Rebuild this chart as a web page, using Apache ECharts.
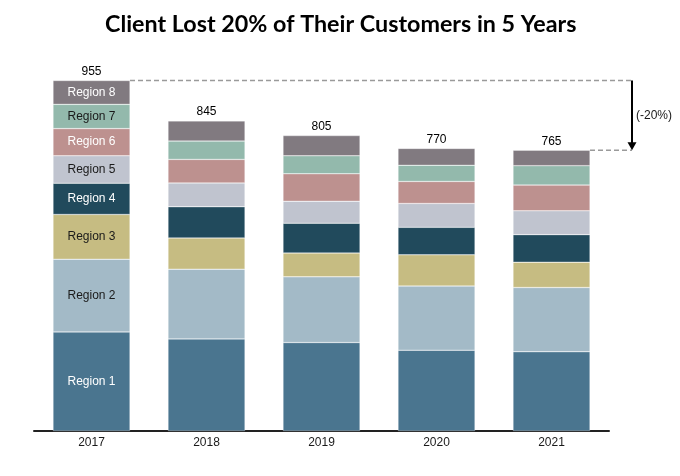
<!DOCTYPE html>
<html>
<head>
<meta charset="utf-8">
<script src="https://cdn.jsdelivr.net/npm/echarts@6/dist/echarts.min.js"></script>
<style>html,body{margin:0;padding:0;background:#fff;}#c{width:680px;height:476px;}</style>
</head>
<body>
<div id="c"></div>
<script>
const years = ['2017', '2018', '2019', '2020', '2021'];
const regionNames = ['Region 1', 'Region 2', 'Region 3', 'Region 4', 'Region 5', 'Region 6', 'Region 7', 'Region 8'];
const region1 = [270, 251, 241, 220, 216];
const region2 = [198, 190, 179, 175, 175];
const region3 = [122, 85, 65, 85, 69];
const region4 = [85, 85, 81, 75, 75];
const region5 = [75, 65, 60, 65, 65];
const region6 = [74, 64, 75, 60, 70];
const region7 = [66, 50, 49, 44, 53];
const region8 = [65, 55, 55, 46, 42];
const totals = [955, 845, 805, 770, 765];
const changeLabel = '(-20%)';

const regionValues = [region1, region2, region3, region4, region5, region6, region7, region8];
const colors = ['#4a758f', '#a3bac7', '#c6bc82', '#214a5c', '#c0c4cf', '#bd918f', '#93b9ac', '#817a80'];
const labelColors = ['#ffffff', '#1a1a1a', '#1a1a1a', '#ffffff', '#1a1a1a', '#ffffff', '#1a1a1a', '#ffffff'];
const BAR_W = 77;
const FONT = 'Arial, "Liberation Sans", sans-serif';

const series = regionValues.map((vals, i) => ({
  name: regionNames[i],
  type: 'bar',
  stack: 'all',
  barWidth: BAR_W,
  itemStyle: { color: colors[i], borderColor: 'rgba(255,255,255,0.6)', borderWidth: 0.5 },
  data: vals.map((v, j) => j === 0 ? {
    value: v,
    label: { show: true, position: 'inside', formatter: regionNames[i], color: labelColors[i],
      fontFamily: FONT, fontSize: 12 }
  } : v),
  silent: true
}));

series.push({
  name: 'Total',
  type: 'bar',
  stack: 'all',
  barWidth: BAR_W,
  data: totals.map(() => 0),
  label: {
    show: true, position: 'top', distance: 3,
    formatter: p => String(totals[p.dataIndex]),
    color: '#000', fontFamily: FONT, fontSize: 12
  },
  itemStyle: { color: 'transparent' }
});

series.push({
  type: 'custom',
  clip: false,
  silent: true,
  data: [[0, totals[0], totals.length - 1, totals[totals.length - 1]]],
  encode: { x: 0, y: 1 },
  renderItem: function (params, api) {
    const p1 = api.coord([api.value(0), api.value(1)]);
    const p2 = api.coord([api.value(2), api.value(3)]);
    const band = api.size([1, 0])[0];
    const xa = p2[0] + band * 0.7;
    const dash = { stroke: '#9a9a9a', lineWidth: 1.5, lineDash: [5, 3] };
    return {
      type: 'group',
      children: [
        { type: 'line', shape: { x1: p1[0] + BAR_W / 2, y1: p1[1], x2: xa, y2: p1[1] }, style: dash },
        { type: 'line', shape: { x1: p2[0] + BAR_W / 2, y1: p2[1], x2: xa, y2: p2[1] }, style: dash },
        { type: 'line', shape: { x1: xa, y1: p1[1], x2: xa, y2: p2[1] - 7 }, style: { stroke: '#000', lineWidth: 2 } },
        { type: 'polygon', shape: { points: [[xa - 4.5, p2[1] - 8], [xa + 4.5, p2[1] - 8], [xa, p2[1]]] }, style: { fill: '#000' } },
        { type: 'text', x: xa + 4, y: (p1[1] + p2[1]) / 2, style: { text: changeLabel, fill: '#1a1a1a',
          font: '12px Arial, "Liberation Sans", sans-serif', textAlign: 'left', textVerticalAlign: 'middle' } }
      ]
    };
  }
});

const chart = echarts.init(document.getElementById('c'), null, { renderer: 'canvas' });
chart.setOption({
  animation: false,
  textStyle: { fontFamily: FONT },
  title: {
    text: 'Client Lost 20% of Their Customers in 5 Years',
    left: 100,
    top: 8,
    textStyle: { fontFamily: 'Lato', fontWeight: 'bold', fontSize: 23.3, color: '#000' }
  },
  grid: { left: 34, right: 71, top: 64, bottom: 45 },
  xAxis: {
    type: 'category',
    data: years,
    axisLine: { lineStyle: { color: '#222', width: 2 } },
    axisTick: { show: false },
    axisLabel: { color: '#1a1a1a', fontFamily: FONT, fontSize: 12, margin: 6 }
  },
  yAxis: {
    type: 'value',
    min: 0, max: 1000,
    show: false
  },
  series: series
});
</script>
</body>
</html>
